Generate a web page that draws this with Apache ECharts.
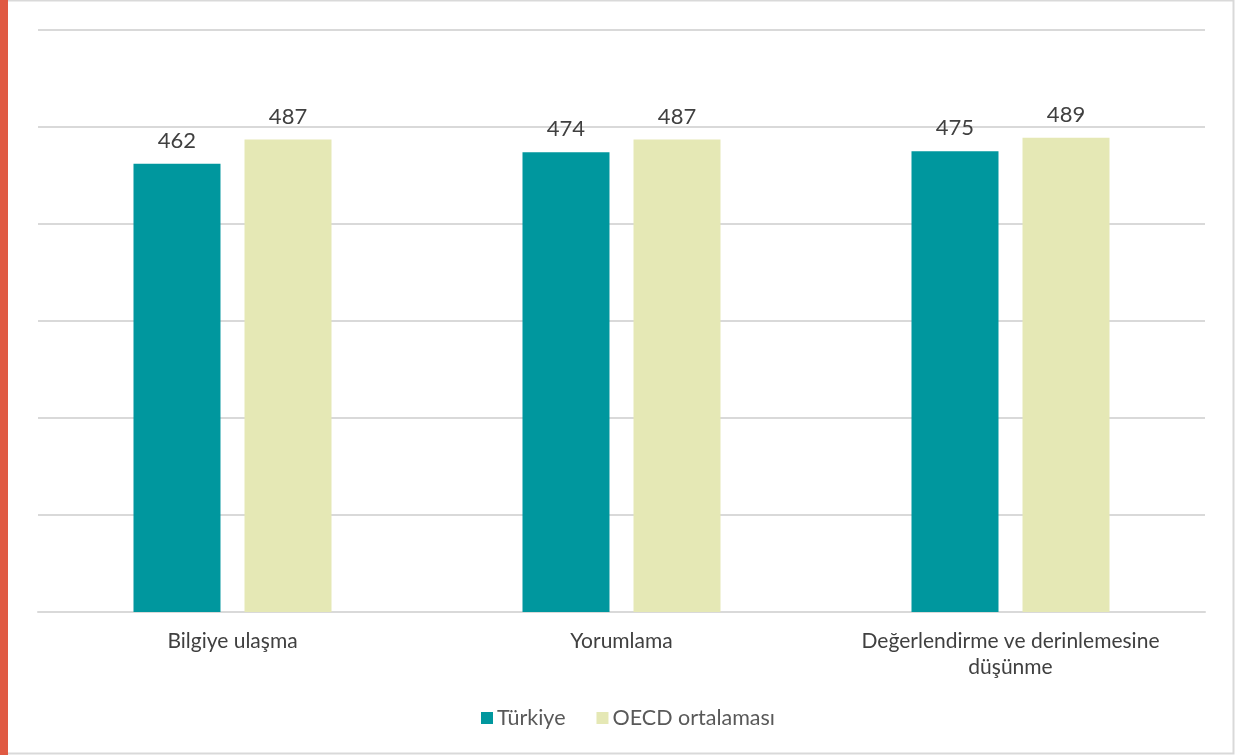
<!DOCTYPE html>
<html><head><meta charset="utf-8">
<script src="https://cdn.jsdelivr.net/npm/echarts@6/dist/echarts.min.js"></script>
<style>html,body{margin:0;padding:0;background:#fff}#c{width:1235px;height:755px}</style>
</head><body><div id="c"></div>
<script>
const categories = ['Bilgiye ulaşma', 'Yorumlama', 'Değerlendirme ve derinlemesine\ndüşünme'];
const seriesNames = ['Türkiye', 'OECD ortalaması'];
const turkiye = [462, 474, 475];
const oecd = [487, 487, 489];

const chart = echarts.init(document.getElementById('c'));
const font = 'Lato, "Open Sans", sans-serif';
const labelCfg = {show: true, position: 'top', distance: 12, color: '#404040', fontSize: 22, fontFamily: font};
chart.setOption({
  animation: false,
  backgroundColor: '#fff',
  graphic: [
    {type: 'rect', shape: {x: 0.5, y: 0.5, width: 1233, height: 753}, style: {fill: 'none', stroke: '#d9d9d9', lineWidth: 2}, z: 10},
    {type: 'rect', shape: {x: 0, y: 0, width: 8, height: 755}, style: {fill: '#e05a43'}, z: 11}
  ],
  grid: {left: 38, right: 30, top: 30, bottom: 143, containLabel: false},
  legend: {
    bottom: 21, left: 476, itemWidth: 12, itemHeight: 12, itemGap: 31,
    icon: 'rect',
    textStyle: {color: '#595959', fontSize: 21.5, fontFamily: font, padding: [0, 0, 0, -1]},
    data: seriesNames
  },
  xAxis: {
    type: 'category', data: categories,
    axisLine: {lineStyle: {color: '#d9d9d9', width: 2}},
    axisTick: {show: false},
    axisLabel: {color: '#404040', fontSize: 21, fontFamily: font, margin: 16, lineHeight: 26}
  },
  yAxis: {
    type: 'value', min: 0, max: 600, interval: 100,
    axisLabel: {show: false}, axisLine: {show: false}, axisTick: {show: false},
    splitLine: {lineStyle: {color: '#d9d9d9', width: 2}}
  },
  series: [
    {name: seriesNames[0], type: 'bar', data: turkiye, barWidth: 87, barGap: '27.6%', itemStyle: {color: '#00979e'}, label: labelCfg},
    {name: seriesNames[1], type: 'bar', data: oecd, barWidth: 87, itemStyle: {color: '#e5e8b5'}, label: labelCfg}
  ]
});
</script></body></html>
